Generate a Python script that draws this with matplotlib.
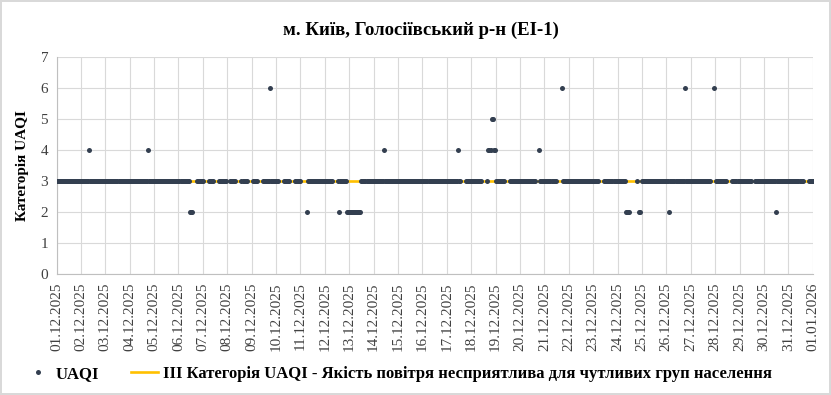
import numpy as np
import pandas as pd
import matplotlib.pyplot as plt

plt.rcParams['font.family'] = ['Liberation Serif', 'DejaVu Serif']

# hourly UAQI category, one string per day (24 hours), '-' = no data
daily_values = [
    "333333333333333333333333",  # 01.12
    "333333334333333333333333",  # 02.12
    "333333333333333333333333",  # 03.12
    "333333333333333333433333",  # 04.12
    "333333333333333333333333",  # 05.12
    "33333333333222----333333",  # 06.12
    "3-----33333-----33333333",  # 07.12
    "---333333-----333333----",  # 08.12
    "-33333-----3333333633333",  # 09.12
    "333-----333333-----33333",  # 10.12
    "3-----233333333333333333",  # 11.12
    "33333333-----32333333322",  # 12.12
    "222222222222333333333333",  # 13.12
    "333333333343333333333333",  # 14.12
    "333333333333333333333333",  # 15.12
    "333333333333333333333333",  # 16.12
    "33333333333433-----33333",  # 17.12
    "33333333333-----34445544",  # 18.12
    "333333333-----3333333333",  # 19.12
    "3333333333333333---43333",  # 20.12
    "333333333333-----6333333",  # 21.12
    "333333333333333333333333",  # 22.12
    "333333-----3333333333333",  # 23.12
    "333333332222-------3-22-",  # 24.12
    "333333333333333333333333",  # 25.12
    "333233333333333333633333",  # 26.12
    "33333333333333333333---6",  # 27.12
    "-33333333333-----3333333",  # 28.12
    "333333333333---333333333",  # 29.12
    "333333333333233333333333",  # 30.12
    "333333333333333-----3333",  # 31.12
    "3",                         # 01.01.2026 00:00
]
start_date = "2025-12-01"
threshold_level = 3

tick_labels = ["01.12.2025", "02.12.2025", "03.12.2025", "04.12.2025", "05.12.2025",
               "06.12.2025", "07.12.2025", "08.12.2025", "09.12.2025", "10.12.2025",
               "11.12.2025", "12.12.2025", "13.12.2025", "14.12.2025", "15.12.2025",
               "16.12.2025", "17.12.2025", "18.12.2025", "19.12.2025", "20.12.2025",
               "21.12.2025", "22.12.2025", "23.12.2025", "24.12.2025", "25.12.2025",
               "26.12.2025", "27.12.2025", "28.12.2025", "29.12.2025", "30.12.2025",
               "31.12.2025", "01.01.2026"]

values = np.array([np.nan if c == '-' else float(c) for day in daily_values for c in day])
times = pd.date_range(start_date, periods=len(values), freq='h')
tick_dates = pd.to_datetime(tick_labels, format="%d.%m.%Y")

fig = plt.figure(figsize=(8.31, 3.95), dpi=100)
fig.patch.set_edgecolor('#d9d9d9')
fig.patch.set_linewidth(1.5)
ax = fig.add_axes([0.068, 0.306, 0.910, 0.549])

ax.plot([times[0], times[-1]], [threshold_level, threshold_level], color='#FFC000', lw=1.9,
        label='ІІІ Категорія UAQI - Якість повітря несприятлива для чутливих груп населення',
        zorder=2)
ax.plot(times, values, 'o', color='#333F50', ms=3.6, mew=0, label='UAQI', zorder=3)

ax.set_xlim(tick_dates[0], tick_dates[-1])
ax.set_ylim(0, 7)
ax.set_xticks(tick_dates)
ax.set_xticklabels(tick_labels, rotation=90, fontsize=11, color='#404040')
ax.set_yticks(range(0, 8))
ax.tick_params(axis='y', labelsize=11, length=0, pad=6, labelcolor='#404040')
ax.tick_params(axis='x', length=0, pad=6)
ax.grid(True, color='#d9d9d9', lw=0.8)
ax.set_axisbelow(True)
for s in ['top', 'right']:
    ax.spines[s].set_visible(False)
for s in ['left', 'bottom']:
    ax.spines[s].set_color('#bfbfbf')
    ax.spines[s].set_linewidth(0.8)

ax.set_ylabel('Категорія UAQI', fontsize=11, fontweight='bold', labelpad=8)
fig.text(0.506, 0.922, 'м. Київ, Голосіївський р-н (ЕІ-1)', fontsize=13.5, fontweight='bold',
         ha='center', va='center')

handles, labels = ax.get_legend_handles_labels()
fig.legend(handles[::-1], labels[::-1], loc='center', bbox_to_anchor=(0.479, 0.053), ncol=2,
           frameon=False, prop={'size': 12, 'weight': 'bold'}, columnspacing=1.9,
           handlelength=1.6, handletextpad=0.3)

fig.savefig('out.png', dpi=100)
